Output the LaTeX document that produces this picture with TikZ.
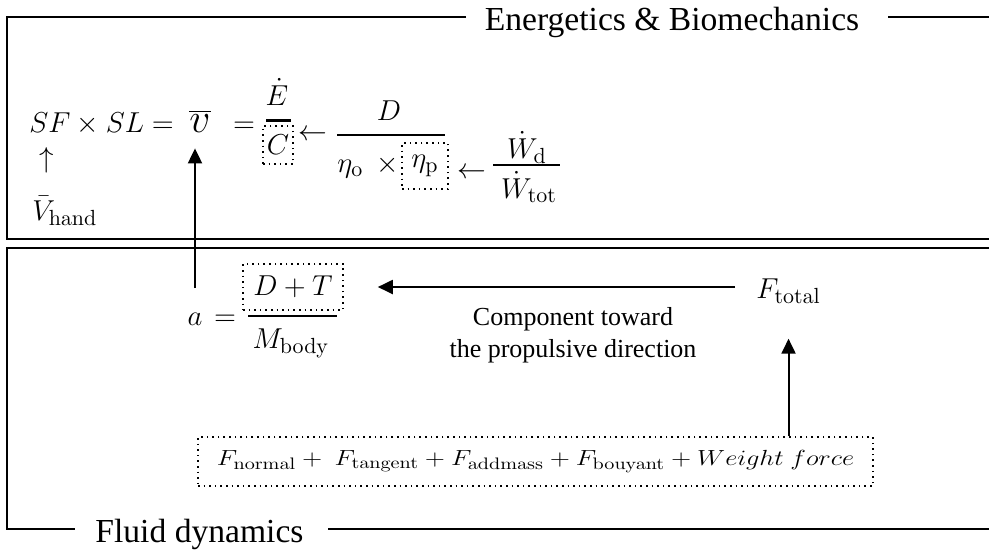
\documentclass[tikz,border=0pt]{standalone}
\usepackage{graphicx}
\usepackage[no-math]{fontspec}
\setmainfont{Liberation Serif}
\DeclareMathSizes{14.5}{14.5}{11}{8}
\usetikzlibrary{arrows.meta}

\begin{document}
\begin{tikzpicture}[x=0.5pt, y=-0.5pt, >={Triangle[length=7.5pt,width=7pt]},
		every node/.style={inner sep=0pt},
		frame/.style={line width=1.3pt},
		title/.style={font=\fontsize{16.8}{20}\selectfont},
		note/.style={font=\fontsize{13}{16}\selectfont, align=center},
		eq/.style={font=\fontsize{14.5}{17}\selectfont},
		dotbox/.style={draw, dotted, line width=0.8pt},
		fracbar/.style={line width=0.8pt},
		link/.style={->, line width=1pt}]
	\useasboundingbox (0,0) rectangle (989,553);
	
	% 1. 外框与标题
	\node[title, anchor=base] (topname) at (672,30) {Energetics \& Biomechanics};
	\draw[frame] (466,17) -- (7,17) -- (7,239) -- (989,239);
	\draw[frame] (888,17) -- (989,17);
	\node[title, anchor=base west] (botname) at (95,542) {Fluid dynamics};
	\draw[frame] (989,248) -- (7,248) -- (7,529) -- (75,529);
	\draw[frame] (328,529) -- (989,529);
	
	% 2. 上方能量学公式
	\node[eq, anchor=base west] (sfsl) at (29,132) {$SF\times SL=$};
	\node[font=\fontsize{22}{24}\selectfont, anchor=base] (vbar) at (200,132) {$\overline{v}$};
	\node[eq, anchor=base] (eqv) at (244,132) {$=$};
	\node[eq, anchor=base] (Edot) at (277,105) {$\dot{E}$};
	\node[eq, dotbox, minimum width=15pt, minimum height=19pt] (Cbox) at (278,145) {$C$};
	\draw[line width=1.3pt] ([xshift=2pt,yshift=2.5pt]Cbox.north west) -- ([xshift=-1.5pt,yshift=2.5pt]Cbox.north east);
	\node[eq] (larrA) at (313,135) {$\leftarrow$};
	% D 除以效率
	\node[eq, anchor=base] (Dnum) at (389,120) {$D$};
	\draw[fracbar] (337,135) -- (445,135);
	\node[eq, anchor=base west] (etao) at (337,172) {$\eta_{\mathrm{o}}$};
	\node[eq, anchor=base] (timesA) at (388,172) {$\times$};
	\node[eq, dotbox, minimum size=23pt] (etap) at (425,166) {$\eta_{\mathrm{p}}$};
	\node[eq] (larrB) at (472,173) {$\leftarrow$};
	% 功率比
	\node[eq, anchor=base] (Wd) at (527,158) {$\dot{W}_{\mathrm{d}}$};
	\draw[fracbar] (493,165) -- (560,165);
	\node[eq, anchor=base] (Wtot) at (529,198) {$\dot{W}_{\mathrm{tot}}$};
	% 手速
	\node[eq] (upA) at (47,160) {$\uparrow$};
	\node[eq, anchor=base west] (Vhand) at (32,220) {$\bar{V}_{\mathrm{hand}}$};
	
	% 3. 下方流体力学公式
	\node[eq, anchor=base] (acc) at (195,325) {$a$};
	\node[eq, anchor=base] (eqa) at (225,325) {$=$};
	\node[eq, dotbox, minimum width=50pt, minimum height=23pt] (DTbox) at (293,287) {$D+T$};
	\draw[fracbar] (248,316) -- (337,316);
	\node[eq, anchor=base] (Mbody) at (291,348) {$M_{\mathrm{body}}$};
	\node[eq, anchor=base west] (Ftot) at (756,298) {$F_{\mathrm{total}}$};
	\node[note] (comp) at (573,335) {Component toward\\the propulsive direction};
	\node[eq, dotbox, minimum width=337.5pt, minimum height=24.5pt] (sumbox) at (535.5,461.5)
		{\scalebox{0.92}[0.76]{$F_{\mathrm{normal}}+\ F_{\mathrm{tangent}}+F_{\mathrm{addmass}}+F_{\mathrm{bouyant}}+Weight\ force$}};
	
	% 4. 箭头
	\draw[link] ([yshift=12pt]acc.north) -- ([yshift=-8pt]acc.north |- vbar.south);
	\draw[link] ([xshift=-10.5pt]Ftot.west |- DTbox.east) -- ([xshift=17pt]DTbox.east);
	\draw[link] (sumbox.north -| Ftot.south) -- ([yshift=-17.5pt]Ftot.south);
\end{tikzpicture}
\end{document}
